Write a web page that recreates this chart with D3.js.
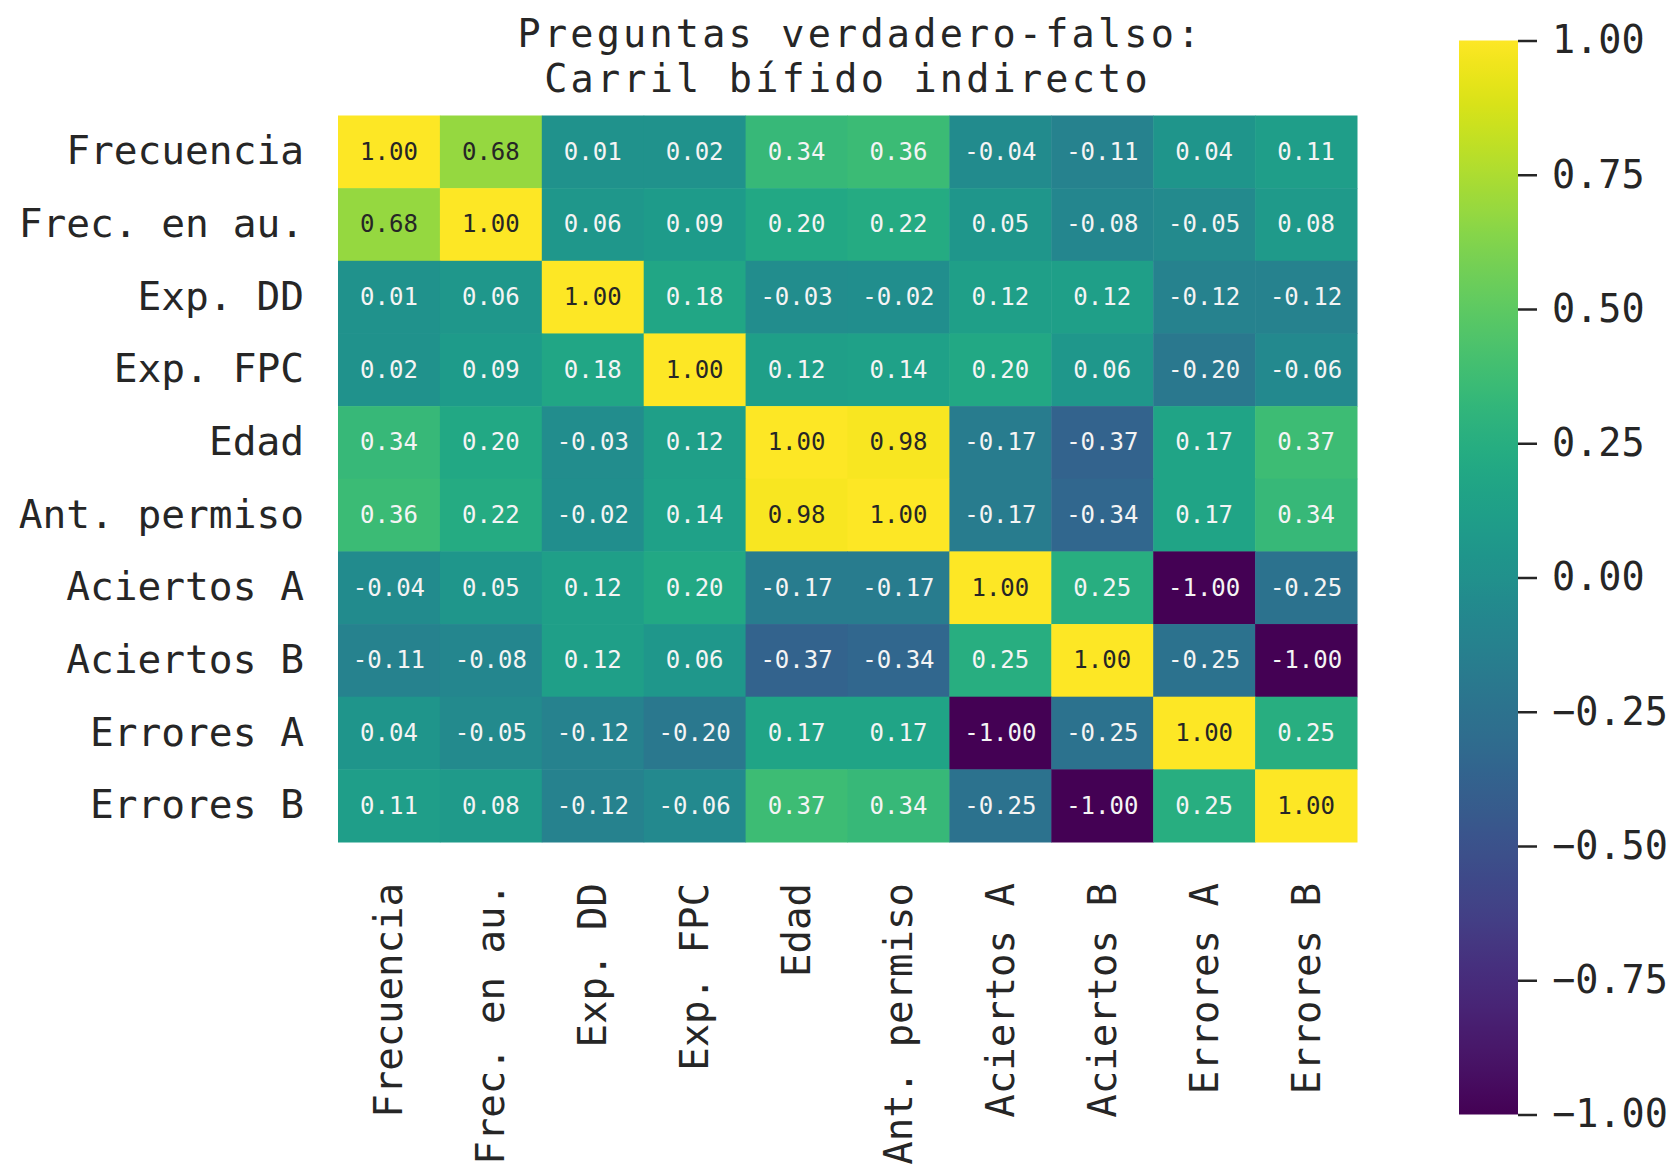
<!DOCTYPE html>
<html>
<head>
<meta charset="utf-8">
<script src="https://cdn.jsdelivr.net/npm/d3@7"></script>
<style>
  html, body { margin: 0; padding: 0; background: #ffffff; }
  svg { display: block; }
  text { font-family: "DejaVu Sans Mono", "Liberation Mono", monospace; }
</style>
</head>
<body>
<svg id="chart" width="1677" height="1169"></svg>
<script>
// Variables of the correlation matrix (rows and columns share the same order)
const variables = [
  "Frecuencia", "Frec. en au.", "Exp. DD", "Exp. FPC", "Edad",
  "Ant. permiso", "Aciertos A", "Aciertos B", "Errores A", "Errores B"
];

// Correlation coefficients, one array per row
const rowFrecuencia  = [ 1.00,  0.68,  0.01,  0.02,  0.34,  0.36, -0.04, -0.11,  0.04,  0.11];
const rowFrecAu      = [ 0.68,  1.00,  0.06,  0.09,  0.20,  0.22,  0.05, -0.08, -0.05,  0.08];
const rowExpDD       = [ 0.01,  0.06,  1.00,  0.18, -0.03, -0.02,  0.12,  0.12, -0.12, -0.12];
const rowExpFPC      = [ 0.02,  0.09,  0.18,  1.00,  0.12,  0.14,  0.20,  0.06, -0.20, -0.06];
const rowEdad        = [ 0.34,  0.20, -0.03,  0.12,  1.00,  0.98, -0.17, -0.37,  0.17,  0.37];
const rowAntPermiso  = [ 0.36,  0.22, -0.02,  0.14,  0.98,  1.00, -0.17, -0.34,  0.17,  0.34];
const rowAciertosA   = [-0.04,  0.05,  0.12,  0.20, -0.17, -0.17,  1.00,  0.25, -1.00, -0.25];
const rowAciertosB   = [-0.11, -0.08,  0.12,  0.06, -0.37, -0.34,  0.25,  1.00, -0.25, -1.00];
const rowErroresA    = [ 0.04, -0.05, -0.12, -0.20,  0.17,  0.17, -1.00, -0.25,  1.00,  0.25];
const rowErroresB    = [ 0.11,  0.08, -0.12, -0.06,  0.37,  0.34, -0.25, -1.00,  0.25,  1.00];

const matrix = [
  rowFrecuencia, rowFrecAu, rowExpDD, rowExpFPC, rowEdad,
  rowAntPermiso, rowAciertosA, rowAciertosB, rowErroresA, rowErroresB
];

// Colour bar ticks
const colorbarTicks = [-1.00, -0.75, -0.50, -0.25, 0.00, 0.25, 0.50, 0.75, 1.00];

const titleLines = ["Preguntas verdadero-falso:", "Carril bífido indirecto"];

// ---- layout ----
const heat = { left: 338, right: 1357, top: 115.5, bottom: 842 };
const bar  = { left: 1459, right: 1518, top: 40.5, bottom: 1114.5 };
const textColor = "#262626";

const svg = d3.select("#chart");

const x = d3.scaleBand().domain(variables).range([heat.left, heat.right]);
const y = d3.scaleBand().domain(variables).range([heat.top, heat.bottom]);
const color = d3.scaleSequential(d3.interpolateViridis).domain([-1, 1]);

// Relative luminance used to pick dark or light annotation text
function luminance(c) {
  const rgb = d3.rgb(c);
  const lin = v => { v /= 255; return v <= 0.03928 ? v / 12.92 : Math.pow((v + 0.055) / 1.055, 2.4); };
  return 0.2126 * lin(rgb.r) + 0.7152 * lin(rgb.g) + 0.0722 * lin(rgb.b);
}

const cells = [];
matrix.forEach((row, i) => row.forEach((v, j) => cells.push({ r: variables[i], c: variables[j], v })));

const gCells = svg.append("g");
gCells.selectAll("rect")
  .data(cells)
  .join("rect")
  .attr("x", d => x(d.c))
  .attr("y", d => y(d.r))
  .attr("width", x.bandwidth() + 0.5)
  .attr("height", y.bandwidth() + 0.5)
  .attr("fill", d => color(d.v));

gCells.selectAll("text")
  .data(cells)
  .join("text")
  .attr("x", d => x(d.c) + x.bandwidth() / 2)
  .attr("y", d => y(d.r) + y.bandwidth() / 2)
  .attr("text-anchor", "middle")
  .attr("dominant-baseline", "central")
  .attr("font-size", 24)
  .attr("fill", d => luminance(color(d.v)) > 0.408 ? textColor : "#f4f4f4")
  .text(d => d.v.toFixed(2));

// Row labels
const yAxis = d3.axisLeft(y).tickSize(0).tickPadding(34);
const gy = svg.append("g").attr("transform", `translate(${heat.left},0)`).call(yAxis);
gy.select(".domain").remove();
gy.selectAll("text").attr("font-size", 39.5).attr("fill", textColor)
  .attr("font-family", "DejaVu Sans Mono");

// Column labels, rotated
const xAxis = d3.axisBottom(x).tickSize(0).tickPadding(0);
const gx = svg.append("g").attr("transform", `translate(0,${heat.bottom})`).call(xAxis);
gx.select(".domain").remove();
gx.selectAll("text")
  .attr("font-size", 39).attr("fill", textColor)
  .attr("font-family", "DejaVu Sans Mono")
  .attr("text-anchor", "end")
  .attr("dy", null)
  .attr("y", 0)
  .attr("dominant-baseline", "central")
  .attr("transform", "translate(0,41) rotate(-90)");

// Title, two centred lines
svg.append("g").selectAll("text")
  .data(titleLines)
  .join("text")
  .attr("x", (d, i) => i === 0 ? 860.5 : 847.5)
  .attr("y", (d, i) => 47 + i * 44.5)
  .attr("text-anchor", "middle")
  .attr("font-size", 38.5)
  .attr("letter-spacing", 3.2)
  .attr("font-family", "DejaVu Sans Mono")
  .attr("fill", textColor)
  .text(d => d);

// Colour bar
const defs = svg.append("defs");
const grad = defs.append("linearGradient").attr("id", "viridisBar")
  .attr("x1", 0).attr("y1", 1).attr("x2", 0).attr("y2", 0);
d3.range(0, 1.0001, 0.02).forEach(t => {
  grad.append("stop").attr("offset", t).attr("stop-color", d3.interpolateViridis(t));
});
svg.append("rect")
  .attr("x", bar.left).attr("y", bar.top)
  .attr("width", bar.right - bar.left).attr("height", bar.bottom - bar.top)
  .attr("fill", "url(#viridisBar)");

const cbScale = d3.scaleLinear().domain([-1, 1]).range([bar.bottom, bar.top]);
const cbAxis = d3.axisRight(cbScale).tickValues(colorbarTicks).tickSize(19).tickPadding(15)
  .tickFormat(d => d3.format(".2f")(d).replace("-", "\u2212"));
const gcb = svg.append("g").attr("transform", `translate(${bar.right},0)`).call(cbAxis);
gcb.select(".domain").remove();
gcb.selectAll("line").attr("stroke", textColor).attr("stroke-width", 2.5);
gcb.selectAll("text").attr("font-size", 38.5).attr("fill", textColor)
  .attr("font-family", "DejaVu Sans Mono");
</script>
</body>
</html>
